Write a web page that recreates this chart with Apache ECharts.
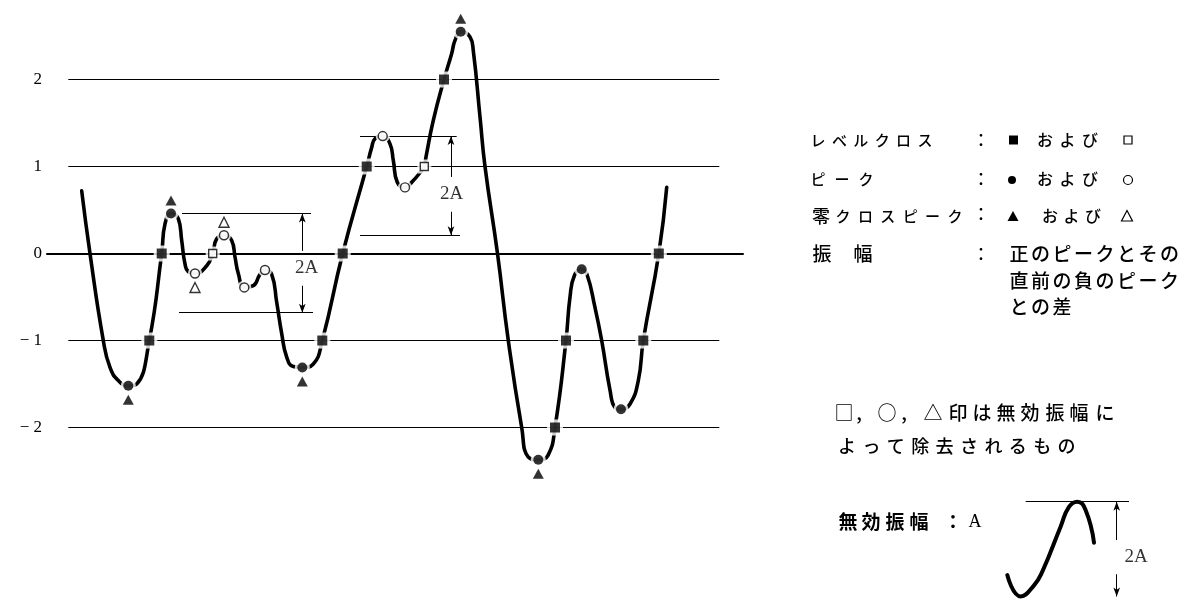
<!DOCTYPE html>
<html>
<head>
<meta charset="utf-8">
<script src="https://cdn.jsdelivr.net/npm/echarts@6/dist/echarts.min.js"></script>
<style>
  html, body { margin: 0; padding: 0; background: #fff; }
  #chart { width: 1184px; height: 599px; }
</style>
</head>
<body>
<div id="chart"></div>
<script>
// ---- data -------------------------------------------------------------
// reference levels crossed by the signal
const levelLines = [-2, -1, 1, 2];
const yTickLabels = ['− 2', '− 1', '0', '1', '2'];

// signal trace between the marked events: [time, value]
const wavePath = [
  [3.47, 0.72], [4.3, 0], [5.63, -1], [6.3, -1.31], [7.13, -1.46], [8.97, -1.5],
  [11.8, 0.34], [13.13, 0.40], [13.47, 0.15], [13.8, -0.12], [14.13, -0.21],
  [15.97, -0.14], [16.97, 0.17], [18.47, 0.15], [18.8, -0.04], [19.13, -0.23],
  [20.63, -0.37], [21.3, -0.24], [22.47, -0.24], [22.97, -0.56], [23.47, -0.92],
  [23.97, -1.19], [24.63, -1.3], [26.63, -1.27],
  [32.47, 1.22], [32.8, 1.32], [34.3, 1.26], [34.63, 1.07], [35.03, 0.82],
  [36.63, 0.84], [37.3, 0.93], [37.9, 1.11], [38.63, 1.53], [40.47, 2.3],
  [40.8, 2.45], [42.3, 2.49], [42.63, 2.33], [43.3, 1.57], [43.8, 1], [45.05, 0],
  [46.13, -1], [47.47, -2], [48.13, -2.34], [50.1, -2.32],
  [52.3, -0.5], [52.75, -0.25], [53.97, -0.23], [54.8, -0.62], [55.47, -1],
  [56.3, -1.57], [56.8, -1.77], [58.3, -1.73], [59.13, -1.46], [61.97, 0.76]
];

// level crossings: counted (■) and removed (□)
const levelCross = [
  [10.23, -1], [11.47, 0], [27.53, -1], [29.57, 0], [31.97, 1],
  [39.7, 2], [50.8, -2], [51.9, -1], [59.63, -1], [61.18, 0]
];
const levelCrossRemoved = [[16.57, 0], [37.73, 1]];

// peaks: [time, value, isZeroCrossPeak]; counted (●, ▲) and removed (○, △)
const peaks = [
  [8.13, -1.52, 1], [12.4, 0.46, 1], [25.53, -1.31, 1], [41.37, 2.55, 1],
  [49.13, -2.37, 1], [53.47, -0.18, 0], [57.4, -1.79, 0]
];
const peaksRemoved = [
  [14.8, -0.23, 1], [17.7, 0.21, 1], [19.73, -0.39, 0], [21.8, -0.19, 0],
  [33.57, 1.35, 0], [35.8, 0.76, 0]
];

// dead-band amplitude A (the marked distance is 2A)
const A = 0.57;

// small sketch of one half-wave of height 2A
const insetWave = [
  [0.73, 0.28], [2.07, 0.03], [3.4, 0.16], [4.23, 0.32], [6.07, 0.85],
  [6.9, 1.08], [7.73, 1.14], [8.57, 1.04], [9.4, 0.66]
];

// ---- chart ------------------------------------------------------------
const BLACK = '#000';
const SERIF = '"Liberation Serif", "DejaVu Serif", serif';
const JP = '"Noto Sans CJK JP", sans-serif';

const curve = [
  ...wavePath,
  ...levelCross,
  ...levelCrossRemoved,
  ...peaks.map(p => [p[0], p[1]]),
  ...peaksRemoved.map(p => [p[0], p[1]])
].sort((a, b) => a[0] - b[0]);

// span of the reference lines along the time axis
const LINE_FROM = 2.13, LINE_TO = 67.23;

// dimension marks for 2A: vertical position, top level, horizontal extents, text height
function dimension(t, top, topSpan, botSpan, textV) {
  const bot = +(top - 2 * A).toFixed(3);
  const gap = 0.2;
  return [
    [{ coord: [topSpan[0], top] }, { coord: [topSpan[1], top] }],
    [{ coord: [botSpan[0], bot] }, { coord: [botSpan[1], bot] }],
    [{ coord: [t, textV + gap], symbol: 'none' }, { coord: [t, top], symbol: 'arrow' }],
    [{ coord: [t, textV - gap], symbol: 'none' }, { coord: [t, bot], symbol: 'arrow' }]
  ];
}
const leftPeak = peaks[1][1];          // 0.46
const rightPeak = peaksRemoved[4][1];  // 1.35

function thinLines(data, width) {
  return {
    silent: true, z: 1, symbol: ['none', 'none'], symbolSize: [5, 9], label: { show: false },
    lineStyle: { color: BLACK, width, type: 'solid' },
    emphasis: { disabled: true },
    data
  };
}
function haloSeries(data, symbol, size) {
  return {
    type: 'scatter', data, symbol, symbolSize: size, z: 3, silent: true,
    itemStyle: { color: '#fff', borderWidth: 0 }
  };
}
function markerSeries(name, data, symbol, size, filled) {
  return {
    name, type: 'scatter', data, symbol, symbolSize: size, z: 4, silent: true,
    itemStyle: filled
      ? { color: BLACK, borderWidth: 0 }
      : { color: '#fff', borderColor: BLACK, borderWidth: 1.4 }
  };
}
function triangleData(list) {
  return list.filter(p => p[2]).map(p => ({
    value: [p[0], p[1]],
    symbolOffset: [0, p[1] > 0 ? -13 : 14]
  }));
}
function xy(list) { return list.map(p => [p[0], p[1]]); }

// legend / note text placed character by character
function ch(text, x, y, size, family, weight) {
  return {
    type: 'text', x, y, silent: true,
    style: {
      text, font: `${weight || 'normal'} ${size}px ${family || JP}`,
      fill: BLACK, align: 'center', verticalAlign: 'middle'
    }
  };
}
function spaced(str, x0, y, pitch, size, weight) {
  return [...str].map((c, i) => ch(c, x0 + i * pitch, y, size, JP, weight));
}
function placed(list, y, size, weight) {
  return list.map(([c, x]) => ch(c, x, y, size, JP, weight));
}

const COLON_X = 981;
const graphics = [
  // level crossing
  ...spaced('レベルクロス', 818, 140, 21.4, 15, 500),
  ch('：', COLON_X, 140, 18),
  { type: 'rect', silent: true, shape: { x: 1009, y: 135.5, width: 9, height: 9 }, style: { fill: BLACK } },
  ...spaced('および', 1045, 140, 22.5, 16, 500),
  { type: 'rect', silent: true, shape: { x: 1124, y: 136, width: 8, height: 8 }, style: { fill: '#fff', stroke: BLACK, lineWidth: 1.2 } },
  // peak
  ...spaced('ピーク', 818, 179, 24, 15, 500),
  ch('：', COLON_X, 179, 18),
  { type: 'circle', silent: true, shape: { cx: 1012, cy: 180, r: 4 }, style: { fill: BLACK } },
  ...spaced('および', 1045, 179, 22.5, 16, 500),
  { type: 'circle', silent: true, shape: { cx: 1128, cy: 180, r: 4.5 }, style: { fill: '#fff', stroke: BLACK, lineWidth: 1.2 } },
  // zero-crossing peak
  ch('零', 821, 216, 18, JP, 500),
  ...spaced('クロスピーク', 843, 216, 22.4, 15, 500),
  ch('：', COLON_X, 214, 18),
  { type: 'polygon', silent: true, shape: { points: [[1013, 211], [1018.5, 221], [1007.5, 221]] }, style: { fill: BLACK } },
  ...spaced('および', 1050, 216, 21.5, 16, 500),
  { type: 'polygon', silent: true, shape: { points: [[1127, 210.5], [1132.5, 221], [1121.5, 221]] }, style: { fill: '#fff', stroke: BLACK, lineWidth: 1.2 } },
  // amplitude
  ch('振', 822, 254, 19, JP, 500),
  ch('幅', 863, 254, 19, JP, 500),
  ch('：', COLON_X, 254, 18),
  ...spaced('正のピークとその', 1019, 254, 21.5, 19, 500),
  ...spaced('直前の負のピーク', 1019, 281, 21.5, 19, 500),
  ...spaced('との差', 1019, 307, 21.5, 19, 500),
  // note on removed events
  ...placed([['□', 844], [',', 859], ['○', 887], [',', 904], ['△', 933], ['印', 958],
             ['は', 982], ['無', 1006], ['効', 1030], ['振', 1055], ['幅', 1079], ['に', 1105]], 413, 19, 500),
  ...spaced('よって除去されるもの', 847, 446, 24.4, 18, 500),
  ...placed([['無', 848], ['効', 871], ['振', 895], ['幅', 919], ['：', 953]], 522, 19, 'bold'),
  ch('A', 975, 522, 18, SERIF)
];

// value axis: 87 px per unit, zero at y = 253.5
const Y_MIN = -3, Y_MAX = 2.914;

const option = {
  animation: false,
  backgroundColor: '#fff',
  grid: [
    { left: 47, width: 696, top: 0, height: (Y_MAX - Y_MIN) * 87 },
    { left: 1000, width: 140, top: 488, height: 113.1 }
  ],
  xAxis: [
    {
      gridIndex: 0, type: 'value', min: 0, max: 69.6,
      axisLine: { show: true, onZero: true, lineStyle: { color: BLACK, width: 2 } },
      axisTick: { show: false }, axisLabel: { show: false }, splitLine: { show: false }
    },
    {
      gridIndex: 1, type: 'value', min: 0, max: 14, show: false
    }
  ],
  yAxis: [
    {
      gridIndex: 0, type: 'value', min: Y_MIN, max: Y_MAX, interval: 1,
      axisLine: { show: false }, axisTick: { show: false }, splitLine: { show: false },
      axisLabel: {
        margin: 5, color: BLACK, fontSize: 17, fontFamily: SERIF,
        showMinLabel: true, showMaxLabel: false,
        formatter: v => (v >= -2 && v <= 2 && Number.isInteger(v)) ? yTickLabels[v + 2] : ''
      }
    },
    {
      gridIndex: 1, type: 'value', min: 0, max: 1.3, show: false
    }
  ],
  series: [
    // reference levels
    {
      type: 'line', data: [], silent: true, z: 1,
      markLine: thinLines(levelLines.map(v => [{ coord: [LINE_FROM, v] }, { coord: [LINE_TO, v] }]), 1.2)
    },
    // 2A dimension marks
    {
      type: 'line', data: [], silent: true, z: 1,
      markLine: thinLines([
        ...dimension(25.53, leftPeak, [13.5, 26.4], [13.2, 26.6], -0.17),
        ...dimension(40.4, rightPeak, [31.3, 40.97], [31.3, 41.3], 0.68)
      ], 1)
    },
    // signal
    {
      name: 'signal', type: 'line', data: curve, smooth: 0.5,
      showSymbol: false, silent: true, z: 2,
      lineStyle: { color: BLACK, width: 3.6, cap: 'round', join: 'round' }
    },
    // white gaps around the markers
    haloSeries(levelCross, 'rect', 16),
    haloSeries(levelCrossRemoved, 'rect', 14),
    haloSeries(xy(peaks), 'circle', 15),
    haloSeries(xy(peaksRemoved), 'circle', 14),
    // markers
    markerSeries('levelCross', levelCross, 'rect', 10, true),
    markerSeries('levelCrossRemoved', levelCrossRemoved, 'rect', 8, false),
    markerSeries('peaks', xy(peaks), 'circle', 10, true),
    markerSeries('peaksRemoved', xy(peaksRemoved), 'circle', 9, false),
    markerSeries('zeroCrossPeaks', triangleData(peaks), 'triangle', [11, 10], true),
    markerSeries('zeroCrossPeaksRemoved', triangleData(peaksRemoved), 'triangle', [10, 10], false),
    // 2A captions
    {
      type: 'scatter', data: [[25.97, -0.17], [40.47, 0.68]], symbolSize: 1, z: 5, silent: true,
      itemStyle: { color: 'rgba(0,0,0,0)' },
      label: { show: true, position: 'inside', formatter: '2A', color: BLACK, fontSize: 19, fontFamily: SERIF }
    },
    // sketch of the dead band
    {
      type: 'line', xAxisIndex: 1, yAxisIndex: 1, data: insetWave, smooth: 0.5,
      showSymbol: false, silent: true, z: 2, clip: false,
      lineStyle: { color: BLACK, width: 4, cap: 'round' },
      markLine: thinLines([
        [{ coord: [2.57, 2 * A] }, { coord: [12.9, 2 * A] }],
        [{ coord: [11.67, 0.49 + 0.2], symbol: 'none' }, { coord: [11.67, 2 * A], symbol: 'arrow' }],
        [{ coord: [11.67, 0.49 - 0.2], symbol: 'none' }, { coord: [11.67, 0.03], symbol: 'arrow' }]
      ], 1)
    },
    {
      type: 'scatter', xAxisIndex: 1, yAxisIndex: 1, data: [[12.4, 0.49]], symbolSize: 1, z: 5, silent: true,
      itemStyle: { color: 'rgba(0,0,0,0)' },
      label: { show: true, position: 'right', distance: 0, formatter: '2A', color: BLACK, fontSize: 19, fontFamily: SERIF }
    }
  ],
  graphic: graphics
};

const chart = echarts.init(document.getElementById('chart'), null, { renderer: 'canvas' });
chart.setOption(option);
</script>
</body>
</html>
